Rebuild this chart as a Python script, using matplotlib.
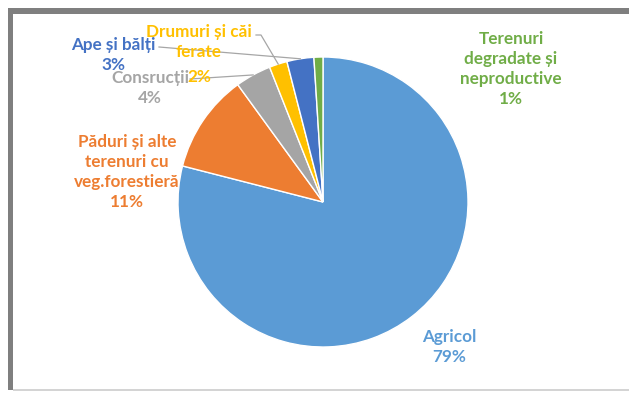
import numpy as np
import matplotlib
matplotlib.use("Agg")
import matplotlib.pyplot as plt
from matplotlib.patches import Rectangle

plt.rcParams['font.family'] = ['Lato', 'DejaVu Sans']

# Land use categories and their shares (%)
categories = ["Agricol", "Păduri și alte\nterenuri cu\nveg.forestieră", "Consrucții",
              "Drumuri și căi\nferate", "Ape și bălți", "Terenuri\ndegradate și\nneproductive"]
shares = [79, 11, 4, 2, 3, 1]
colors = ["#5B9BD5", "#ED7D31", "#A5A5A5", "#FFC000", "#4472C4", "#70AD47"]

W, H = 629, 394
fig = plt.figure(figsize=(W / 100, H / 100), dpi=100)
fig.patch.set_facecolor("white")
ax = fig.add_axes([0, 0, 1, 1])


def Y(y):
    return H - y


# Frame around the chart area
ax.add_patch(Rectangle((8, Y(14)), W - 8, 6, facecolor="#7f7f7f", edgecolor="none"))
ax.add_patch(Rectangle((8, Y(390)), 5, 382, facecolor="#7f7f7f", edgecolor="none"))
ax.add_patch(Rectangle((13, Y(391)), W - 13, 2, facecolor="#d4d4d4", edgecolor="none"))

cx, cy, r = 323, 202, 145
wedges, _ = ax.pie(shares, colors=colors, startangle=90, counterclock=False,
                   center=(cx, Y(cy)), radius=r, frame=True,
                   wedgeprops=dict(edgecolor="white", linewidth=1.0))
ax.set_xlim(0, W)
ax.set_ylim(0, H)
ax.set_aspect("equal")
ax.axis("off")

# Label block centres (pixels, from top-left)
label_pos = [(449, 347), (127, 172), (150, 88), (199, 42), (113, 55), (511, 69)]
fs = 12.3
for i, (name, val, col) in enumerate(zip(categories, shares, colors)):
    x, y = label_pos[i]
    if i == 3:
        # two-line name with the percentage placed on its own line below
        ax.text(x, Y(y), name, ha="center", va="center", color=col,
                fontsize=fs, fontweight="bold", linespacing=1.3)
        ax.text(x, Y(77), f"{val}%", ha="center", va="center", color=col,
                fontsize=fs, fontweight="bold")
    else:
        ax.text(x, Y(y), f"{name}\n{val}%", ha="center", va="center", color=col,
                fontsize=fs, fontweight="bold", linespacing=1.3)


def edge_point(w):
    ang = np.deg2rad((w.theta1 + w.theta2) / 2)
    return cx + r * np.cos(ang), Y(cy) + r * np.sin(ang)


lead = "#a6a6a6"
# Construcții
ex, ey = edge_point(wedges[2])
ax.plot([190, ex], [Y(79), ey], color=lead, lw=0.9)
# Drumuri și căi ferate
ex, ey = edge_point(wedges[3])
ax.plot([256, 261, ex], [Y(35), Y(35), ey], color=lead, lw=0.9)
# Ape și bălți
ex, ey = edge_point(wedges[4])
ax.plot([159, ex], [Y(47), ey], color=lead, lw=0.9)

fig.savefig("out.png", dpi=100, facecolor="white")
